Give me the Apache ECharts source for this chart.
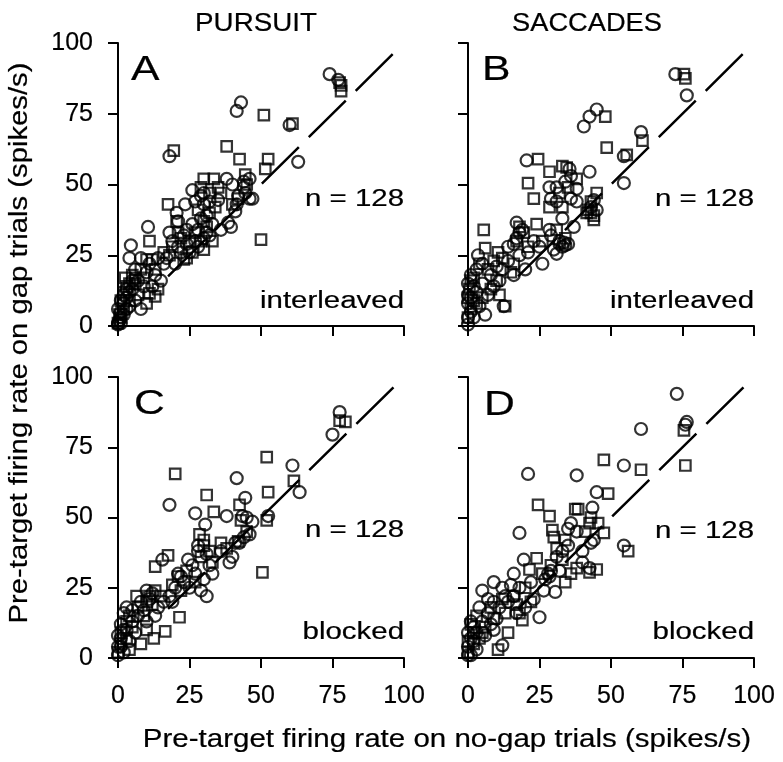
<!DOCTYPE html>
<html>
<head>
<meta charset="utf-8">
<script src="https://cdn.jsdelivr.net/npm/echarts@6/dist/echarts.min.js"></script>
<style>
html,body{margin:0;padding:0;background:#fff;}
#chart{width:783px;height:762px;}
</style>
</head>
<body>
<div id="chart"></div>
<script>
// ---- tick labels / categories ----
const tickValues = [0, 25, 50, 75, 100];
const columnTitles = ['PURSUIT', 'SACCADES'];
const panelLetters = ['A', 'B', 'C', 'D'];
const conditionLabels = ['interleaved', 'interleaved', 'blocked', 'blocked'];
const nLabel = 'n = 128';
const xTitle = 'Pre-target firing rate on no-gap trials (spikes/s)';
const yTitle = 'Pre-target firing rate on gap trials (spikes/s)';
const unityLine = [[17.5, 17.5], [96.5, 96.5]];

// ---- Panel A (pursuit, interleaved) ----
const circlesA = [[74,89],[77,87],[43,79],[41.5,76],[60,71],[18,60],[63,58],[38,52],[40,50],[44,51],[46,52],[44.5,47],[41.5,43],[41,40.5],[39.5,35],[38.5,36.5],[26,48],[35,44.5],[23.5,43],[10.5,35],[4.5,28.5],[4,24],[20.5,40],[21,37],[24,34],[27,30],[30,31],[28,28],[25,26],[32,32],[33,36],[31,39],[30,43],[29,46],[27,44],[8,24],[11,22],[14,24],[17,24],[6,20],[7,16],[9,14],[5,13],[3,10],[2,8],[1,5],[0.5,2],[0,0.5],[1,3],[2,11],[4,12],[6,9],[8,6],[3,6],[12,14],[15,16],[20,22],[22,26],[26,36],[23,32],[36,34],[44,49],[42,46],[47,45],[46,45],[19,30],[18,33],[16,22],[13,18],[10,19],[0,1],[1,1],[2,4],[0,6],[1,9],[4,7],[3,13],[5,16],[29,38],[31,33],[28,34],[30,47],[32,44],[21,28],[24,29]];
const squaresA = [[78,85],[78,83],[77.5,86],[51,74.5],[61,71.5],[19.5,62],[38,63.5],[42.5,59],[52.5,59],[51.5,55.5],[30,52],[33.5,52],[44.5,53.5],[17.5,43],[50,30.5],[11,30],[10,23.5],[12,23.5],[2.5,17],[11,11.5],[13,10.5],[23,23.5],[24,24],[20.5,37],[21,33],[32,47],[29,49],[34,42],[31,35],[27,33],[22,31],[19,28],[16,26],[13,20],[9,17],[6,15],[4,9],[2,6],[1,3],[0,1],[7,11],[10,8],[14,13],[18,25],[26,26],[28,41],[35,49],[33,30],[30,27],[25,30],[42,45],[45,50],[40,43],[36,47],[8,20],[5,18],[3,14],[1,9],[0.5,4],[2,12],[4,15],[6,17],[30,37],[32,40],[29,30]];

// ---- Panel B (saccades, interleaved) ----
const circlesB = [[72.5,89],[76.5,81.5],[45,76.5],[42.5,74],[40.5,70.5],[60.5,68.5],[54.5,60],[54.5,50.5],[20.5,58.5],[35.5,55.5],[42.5,54.5],[28.5,49],[31,49],[38,48.5],[44,44.5],[37,35],[17,36.5],[19,34],[28.5,34],[32,29],[33.5,29.5],[34,28.5],[31,25.5],[26,22],[3.5,25],[16,29],[23,30],[21,26],[18,25],[14,23],[12,20],[10,21],[8,18],[5,15],[3,12],[1,10],[0,8],[1,5],[2,3],[0,0.5],[12.5,7],[6,4],[4,7],[7,11],[9,14],[11,16],[14,28],[25,28],[29,32],[33,38],[36,45],[31,44],[29,45],[34,51],[36,53],[38,44],[43,42],[45,41],[30,27],[20,20],[16,18],[2,14],[0,11],[0,15],[1,18],[0,3],[18,33],[17,31],[33,28],[35,29],[32,30],[3,20],[5,22]];
const squaresB = [[75.5,89],[76,87.5],[48,74],[61,65.5],[48.5,63],[55.5,60.5],[24.5,59],[28.5,54.5],[33,56.5],[34.5,56],[21,50.5],[23,45],[28.5,42],[33,42],[45,47],[41.5,40],[44,37.5],[44,39],[5.5,34],[19.5,33],[6,27.5],[10.5,26],[12,24],[16,22],[15,19],[10,16],[8,13],[5,10],[3,8],[1,6],[0,3],[0.5,13],[2,17],[7,20],[11,11],[13,7],[24,36],[26,30],[31,34],[35,49],[38,52],[32,47],[42,41],[43,44],[21,28],[17,30],[9,23],[4,22],[1,16],[0,10],[2,9],[18,35],[34,31],[43,40]];

// ---- Panel C (pursuit, blocked) ----
const circlesC = [[77.5,87.5],[75,79.5],[61,68.5],[63.5,59],[41.5,64],[44.5,57],[18,54.5],[27,51.5],[38,50.5],[43.5,50.5],[45,50],[47,48.5],[52.5,50.5],[30.5,47.5],[42.5,41],[39,34],[40,36],[15.5,35],[24.5,35],[31,22],[28,40],[31,37],[26,33],[22,29],[20,25],[23,27],[30,28],[33,30],[29,24],[25,25],[18,22],[16,20],[12,23],[11,21],[9,17],[7,15],[5,13],[3,10],[1,12],[0,8],[1,4],[2,2],[0,1],[4,6],[6,9],[10,13],[13,15],[14,18],[19,20],[36,38],[44,43],[46,44],[41,41],[32,33],[27,30],[8,20],[2,16],[3,18],[0,4],[1,7],[2,10],[5,17],[10,24],[28,38],[21,30]];
const squaresC = [[77.5,84.5],[79.5,84],[52,71.5],[61.5,63],[20,65.5],[52.5,59],[31,58],[42.5,54.5],[33.5,52],[52,49],[28.5,44],[42,41.5],[50.5,30.5],[17.5,36.5],[13,32.5],[21.5,14.5],[16.5,9.5],[12.5,7],[6.5,22],[30,40],[32,38],[29,36],[33,34],[38,39],[24,31],[21,29],[19,26],[22,24],[27,27],[15,22],[12,19],[9,15],[5,11],[3,7],[1,5],[0,2],[10,10],[8,5],[4,3],[13,24],[10,20],[7,18],[3,13],[43,49],[45,45],[36,41],[1,9],[4,15],[11,22],[30,42]];

// ---- Panel D (saccades, blocked) ----
const circlesD = [[73,94],[76.5,84],[76,83],[60.5,81.5],[54.5,68.5],[21,65.5],[38,65],[45,59],[43.5,53.5],[36,48],[35,46],[18,44.5],[54.5,40],[43,41],[42.5,32],[28.5,29],[19.5,35],[5,24],[9,27],[12,25],[25,14.5],[12,4.5],[26.5,24],[30.5,23.5],[33,38],[35,40],[31,36],[29,31],[27,28],[40,38],[44,42],[22,27],[18,25],[16,30],[14,20],[20,18],[17,16],[11,18],[7,16],[5,13],[3,9],[1,7],[0,4],[1,1],[3,3],[6,8],[8,12],[10,14],[2,11],[0,9],[4,18],[7,21],[13,22],[9,10],[15,26],[23,21],[32,31],[38,45],[40,34],[0,1],[2,6],[1,13],[9,20],[16,22],[28,30]];
const squaresD = [[75.5,81],[76,68.5],[47.5,70.5],[49,58.5],[60.5,67],[24.5,54.5],[28.5,50.5],[37.5,53],[38.5,53],[42.5,48],[45.5,48],[47.5,44.5],[29.5,45.5],[30,43],[56,38],[38,32],[45,31.5],[42.5,30.5],[34,27],[24,35.5],[21.5,31.5],[19,13.5],[14,9],[10.5,3],[17,19],[13,16],[9,14],[6,11],[4,7],[2,5],[0,2],[1,12],[3,15],[8,18],[12,21],[16,22],[20,25],[31,39],[34,42],[33,35],[26,30],[41,45],[43,50],[29,33],[36,30],[22,20],[5,9],[0,6],[2,9],[18,16]];

const circles = [circlesA, circlesB, circlesC, circlesD];
const squares = [squaresA, squaresB, squaresC, squaresD];

// ---- layout ----
const FONT = '"Liberation Sans", Arial, Helvetica, sans-serif';
const grids = [
  {left: 118, top: 43, width: 286, height: 283},
  {left: 468, top: 43, width: 286, height: 283},
  {left: 118, top: 377, width: 286, height: 281},
  {left: 468, top: 377, width: 286, height: 281}
];

function axisBase(showLabel, margin) {
  return {
    min: tickValues[0], max: tickValues[tickValues.length - 1], interval: 25,
    axisLine: {show: true, onZero: false, lineStyle: {color: '#000', width: 2}},
    axisTick: {show: true, inside: false, length: 10, lineStyle: {color: '#000', width: 2}},
    splitLine: {show: false},
    axisLabel: {show: showLabel, color: '#000', fontSize: 25, fontFamily: FONT, margin: margin,
      textBorderColor: '#000', textBorderWidth: 0.2}
  };
}

const xAxes = [], yAxes = [], series = [];
for (let i = 0; i < 4; i++) {
  xAxes.push(Object.assign({type: 'value', gridIndex: i}, axisBase(i >= 2, 26)));
  yAxes.push(Object.assign({type: 'value', gridIndex: i}, axisBase(i % 2 === 0, 25)));
  series.push({
    type: 'line', xAxisIndex: i, yAxisIndex: i, data: unityLine, symbol: 'none', z: 1,
    lineStyle: {color: '#000', width: 2.5, type: [52, 14]}, silent: true
  });
  series.push({
    type: 'scatter', xAxisIndex: i, yAxisIndex: i, data: circles[i], symbol: 'circle', symbolSize: 12, z: 2,
    itemStyle: {color: 'rgba(0,0,0,0)', borderColor: '#000', borderWidth: 2.2}
  });
  series.push({
    type: 'scatter', xAxisIndex: i, yAxisIndex: i, data: squares[i], symbol: 'rect', symbolSize: 10.5, z: 2,
    itemStyle: {color: 'rgba(0,0,0,0)', borderColor: '#000', borderWidth: 2.2}
  });
}

const graphics = [];
function txt(text, x, y, size, align, sx) {
  graphics.push({
    type: 'text', x: x, y: y, scaleX: sx || 1,
    style: {text: text, fill: '#000', stroke: '#000', lineWidth: 0.2,
      font: size + 'px ' + FONT, textAlign: align, textVerticalAlign: 'middle'}
  });
}
txt(columnTitles[0], 256, 24, 25, 'center', 1.11);
txt(columnTitles[1], 587, 24, 25, 'center', 1.09);
const letterPos = [[131, 70], [482, 70], [134, 404], [484, 405]];
const nPosY = [200, 200, 531, 532];
const condPosY = [302, 302, 633, 633];
const rightX = [404, 754, 404, 754];
for (let i = 0; i < 4; i++) {
  txt(panelLetters[i], letterPos[i][0], letterPos[i][1], 35, 'left', 1.22);
  txt(nLabel, rightX[i], nPosY[i], 23, 'right', 1.28);
  txt(conditionLabels[i], rightX[i], condPosY[i], 23, 'right', 1.28);
}
txt(xTitle, 447, 740, 25, 'center', 1.18);
graphics.push({
  type: 'text', x: 20, y: 343, rotation: Math.PI / 2, scaleX: 1.17,
  style: {text: yTitle, fill: '#000', stroke: '#000', lineWidth: 0.2,
    font: '25px ' + FONT, textAlign: 'center', textVerticalAlign: 'middle'}
});

const chart = echarts.init(document.getElementById('chart'), null, {renderer: 'canvas'});
chart.setOption({
  animation: false,
  backgroundColor: '#fff',
  grid: grids,
  xAxis: xAxes,
  yAxis: yAxes,
  series: series,
  graphic: graphics
});
</script>
</body>
</html>
